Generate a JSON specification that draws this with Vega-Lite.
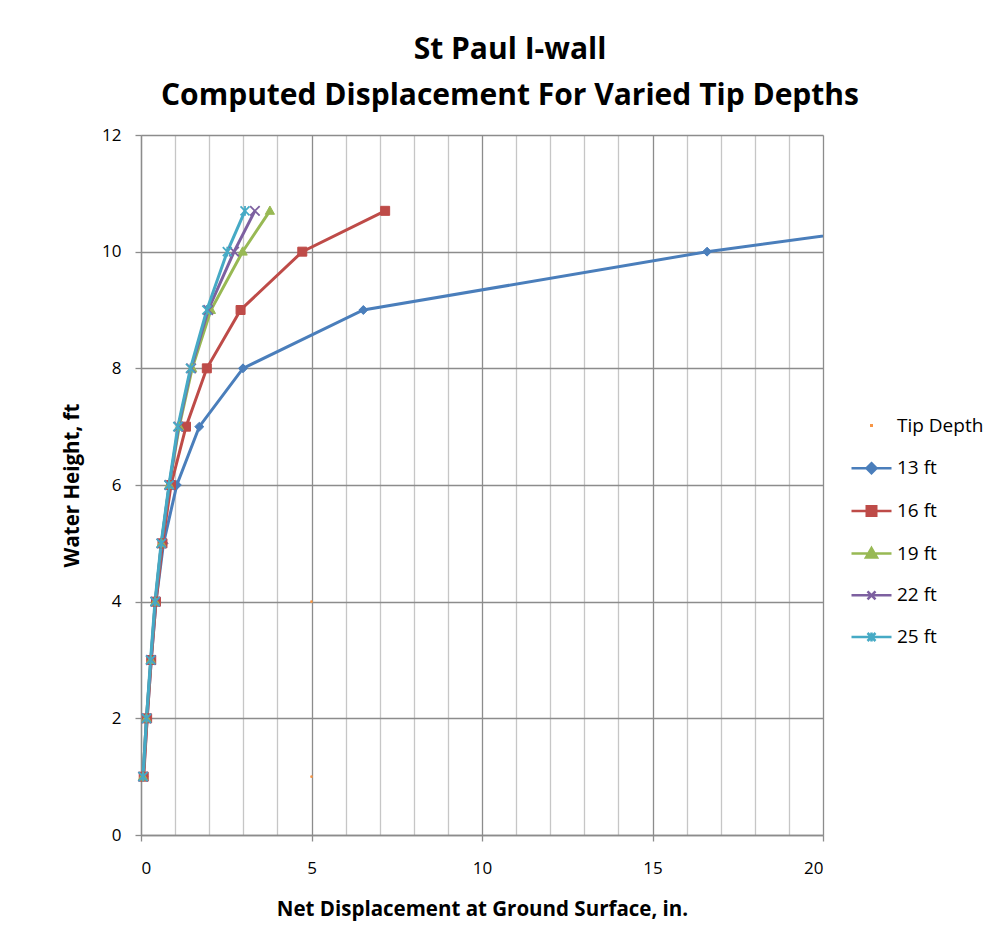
{
  "$schema": "https://vega.github.io/schema/vega-lite/v6.json",
  "width": 682,
  "height": 700,
  "autosize": {"type": "none"},
  "padding": {"left": 141, "top": 135, "right": 178, "bottom": 109},
  "background": "white",
  "config": {"font": "Open Sans", "view": {"stroke": null}},
  "title": {
    "text": ["St Paul I-wall", "Computed Displacement For Varied Tip Depths"],
    "fontSize": 30, "fontWeight": "bold", "font": "Open Sans", "color": "black",
    "lineHeight": 46, "anchor": "middle", "dx": 28, "offset": 15
  },
  "data": {"values": [
    {"series": "Tip Depth", "x": 5, "y": 4},
    {"series": "Tip Depth", "x": 5, "y": 1},
    {"series": "13 ft", "x": 0.07, "y": 1},
    {"series": "13 ft", "x": 0.18, "y": 2},
    {"series": "13 ft", "x": 0.3, "y": 3},
    {"series": "13 ft", "x": 0.44, "y": 4},
    {"series": "13 ft", "x": 0.66, "y": 5},
    {"series": "13 ft", "x": 1.05, "y": 6},
    {"series": "13 ft", "x": 1.71, "y": 7},
    {"series": "13 ft", "x": 2.99, "y": 8},
    {"series": "13 ft", "x": 6.52, "y": 9},
    {"series": "13 ft", "x": 16.6, "y": 10},
    {"series": "13 ft", "x": 25.4, "y": 10.7},
    {"series": "16 ft", "x": 0.08, "y": 1},
    {"series": "16 ft", "x": 0.18, "y": 2},
    {"series": "16 ft", "x": 0.3, "y": 3},
    {"series": "16 ft", "x": 0.44, "y": 4},
    {"series": "16 ft", "x": 0.63, "y": 5},
    {"series": "16 ft", "x": 0.88, "y": 6},
    {"series": "16 ft", "x": 1.32, "y": 7},
    {"series": "16 ft", "x": 1.93, "y": 8},
    {"series": "16 ft", "x": 2.92, "y": 9},
    {"series": "16 ft", "x": 4.73, "y": 10},
    {"series": "16 ft", "x": 7.16, "y": 10.7},
    {"series": "19 ft", "x": 0.06, "y": 1},
    {"series": "19 ft", "x": 0.16, "y": 2},
    {"series": "19 ft", "x": 0.29, "y": 3},
    {"series": "19 ft", "x": 0.42, "y": 4},
    {"series": "19 ft", "x": 0.6, "y": 5},
    {"series": "19 ft", "x": 0.83, "y": 6},
    {"series": "19 ft", "x": 1.12, "y": 7},
    {"series": "19 ft", "x": 1.5, "y": 8},
    {"series": "19 ft", "x": 2.05, "y": 9},
    {"series": "19 ft", "x": 2.98, "y": 10},
    {"series": "19 ft", "x": 3.78, "y": 10.7},
    {"series": "22 ft", "x": 0.06, "y": 1},
    {"series": "22 ft", "x": 0.16, "y": 2},
    {"series": "22 ft", "x": 0.29, "y": 3},
    {"series": "22 ft", "x": 0.42, "y": 4},
    {"series": "22 ft", "x": 0.6, "y": 5},
    {"series": "22 ft", "x": 0.83, "y": 6},
    {"series": "22 ft", "x": 1.1, "y": 7},
    {"series": "22 ft", "x": 1.47, "y": 8},
    {"series": "22 ft", "x": 1.97, "y": 9},
    {"series": "22 ft", "x": 2.73, "y": 10},
    {"series": "22 ft", "x": 3.34, "y": 10.7},
    {"series": "25 ft", "x": 0.06, "y": 1},
    {"series": "25 ft", "x": 0.16, "y": 2},
    {"series": "25 ft", "x": 0.28, "y": 3},
    {"series": "25 ft", "x": 0.41, "y": 4},
    {"series": "25 ft", "x": 0.59, "y": 5},
    {"series": "25 ft", "x": 0.82, "y": 6},
    {"series": "25 ft", "x": 1.08, "y": 7},
    {"series": "25 ft", "x": 1.45, "y": 8},
    {"series": "25 ft", "x": 1.93, "y": 9},
    {"series": "25 ft", "x": 2.53, "y": 10},
    {"series": "25 ft", "x": 3.05, "y": 10.7}
  ]},
  "encoding": {
    "x": {
      "field": "x", "type": "quantitative",
      "scale": {"domain": [0, 20], "nice": false, "zero": false},
      "axis": {
        "title": "Net Displacement at Ground Surface, in.",
        "values": [0,1,2,3,4,5,6,7,8,9,10,11,12,13,14,15,16,17,18,19,20],
        "labelExpr": "datum.value % 5 === 0 ? datum.label : ''",
        "labelOverlap": false,
        "grid": true,
        "gridColor": {"condition": {"test": "datum.value % 5 === 0", "value": "#8c8c8c"}, "value": "#c6c6c6"},
        "gridWidth": 1.3,
        "domainColor": "#8c8c8c", "domainWidth": 1.3,
        "tickColor": "#8c8c8c", "tickWidth": 1.3, "tickSize": 6,
        "tickOpacity": {"condition": {"test": "datum.value % 5 === 0", "value": 1}, "value": 0},
        "labelFont": "Open Sans", "labelFontSize": 17, "labelColor": "black", "labelPadding": 19,
        "titleFont": "Open Sans", "titleFontSize": 20.5, "titleFontWeight": "bold", "titleColor": "black", "titlePadding": 23
      }
    },
    "y": {
      "field": "y", "type": "quantitative",
      "scale": {"domain": [0, 12], "nice": false, "zero": false},
      "axis": {
        "title": "Water Height, ft",
        "values": [0, 2, 4, 6, 8, 10, 12],
        "grid": true, "gridColor": "#8c8c8c", "gridWidth": 1.3,
        "domainColor": "#8c8c8c", "domainWidth": 1.3,
        "tickColor": "#8c8c8c", "tickWidth": 1.3, "tickSize": 6,
        "labelFont": "Open Sans", "labelFontSize": 17, "labelColor": "black", "labelPadding": 14,
        "titleFont": "Open Sans", "titleFontSize": 20.5, "titleFontWeight": "bold", "titleColor": "black", "titlePadding": 19
      }
    }
  },
  "layer": [
    {
      "mark": {"type": "point", "filled": true, "opacity": 0, "clip": true},
      "encoding": {
        "color": {"field": "series", "type": "nominal",
          "scale": {"domain": ["Tip Depth", "13 ft", "16 ft", "19 ft", "22 ft", "25 ft"],
                    "range": ["#F79646", "#4A7EBB", "#BE4B48", "#98B954", "#7D60A0", "#46AAC5"]},
          "legend": {
            "title": null, "orient": "none", "legendX": 721, "legendY": 281,
            "symbolSize": 100, "labelFont": "Open Sans", "labelFontSize": 19, "labelColor": "black",
            "labelOffset": 16, "rowPadding": 21.7, "padding": 0,
            "encode": {"symbols": {"update": {
              "stroke": {"scale": "color", "field": "value"},
              "strokeWidth": {"signal": "datum.value === 'Tip Depth' ? 0 : 2.5"},
              "opacity": {"value": 1},
              "fillOpacity": {"value": 1},
              "strokeOpacity": {"value": 1}
            }}}
          }
        },
        "shape": {"field": "series", "type": "nominal",
          "scale": {"domain": ["Tip Depth", "13 ft", "16 ft", "19 ft", "22 ft", "25 ft"],
                    "range": [
                      "M-0.3,-0.3H0.3V0.3H-0.3Z",
                      "M-4,0H4M0,-1L1,0L0,1L-1,0Z",
                      "M-4,0H4M-0.95,-0.95H0.95V0.95H-0.95Z",
                      "M-4,0H4M0,-1.1L1.1,0.8H-1.1Z",
                      "M-4,0H4M-0.8,-0.8L0.8,0.8M-0.8,0.8L0.8,-0.8",
                      "M-4,0H4M-0.8,-0.8L0.8,0.8M-0.8,0.8L0.8,-0.8M0,-0.9V0.9"
                    ]},
          "legend": {
            "title": null, "orient": "none", "legendX": 721, "legendY": 281,
            "symbolSize": 100, "labelFont": "Open Sans", "labelFontSize": 19, "labelColor": "black",
            "labelOffset": 16, "rowPadding": 21.7, "padding": 0
          }
        }
      }
    },
    {
      "transform": [{"filter": "datum.series !== 'Tip Depth'"}],
      "mark": {"type": "line", "strokeWidth": 3, "clip": true},
      "encoding": {
        "color": {"field": "series", "type": "nominal",
          "scale": {"domain": ["Tip Depth", "13 ft", "16 ft", "19 ft", "22 ft", "25 ft"],
                    "range": ["#F79646", "#4A7EBB", "#BE4B48", "#98B954", "#7D60A0", "#46AAC5"]},
          "legend": null}
      }
    },
    {
      "transform": [{"filter": "datum.series === 'Tip Depth'"}],
      "mark": {"type": "circle", "size": 7, "color": "#F79646", "opacity": 1}
    },
    {
      "transform": [{"filter": "datum.series === '13 ft'"}],
      "mark": {"type": "point", "shape": "M0,-1L1,0L0,1L-1,0Z", "size": 80, "filled": true, "fill": "#4A7EBB", "stroke": "#4A7EBB", "strokeWidth": 1, "opacity": 1, "clip": true}
    },
    {
      "transform": [{"filter": "datum.series === '16 ft'"}],
      "mark": {"type": "point", "shape": "square", "size": 81, "filled": true, "fill": "#BE4B48", "stroke": "#BE4B48", "strokeWidth": 1, "opacity": 1}
    },
    {
      "transform": [{"filter": "datum.series === '19 ft'"}],
      "mark": {"type": "point", "shape": "M0,-1.05L1,0.75L-1,0.75Z", "size": 85, "filled": true, "fill": "#98B954", "stroke": "#98B954", "strokeWidth": 1, "opacity": 1}
    },
    {
      "transform": [{"filter": "datum.series === '22 ft'"}],
      "mark": {"type": "point", "shape": "M-1,-1L1,1M-1,1L1,-1", "size": 90, "filled": false, "stroke": "#7D60A0", "strokeWidth": 1.8, "opacity": 1}
    },
    {
      "transform": [{"filter": "datum.series === '25 ft'"}],
      "mark": {"type": "point", "shape": "M-1,-1L1,1M-1,1L1,-1M0,-1.1V1.1", "size": 80, "filled": false, "stroke": "#46AAC5", "strokeWidth": 1.8, "opacity": 1}
    }
  ]
}
